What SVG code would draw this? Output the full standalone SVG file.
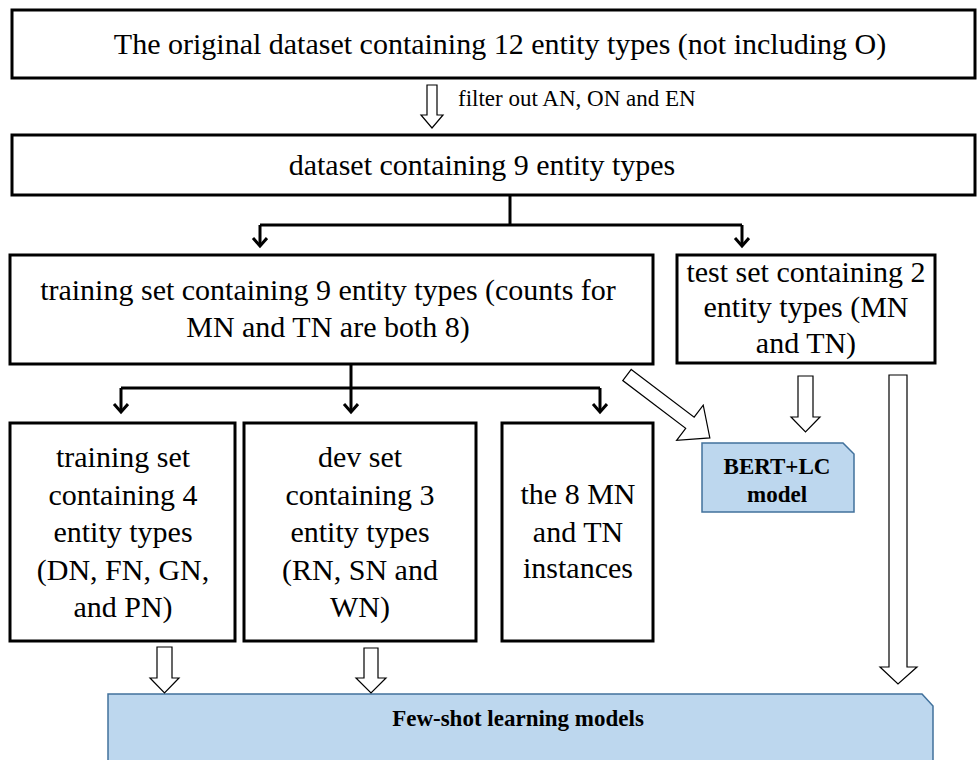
<svg xmlns="http://www.w3.org/2000/svg" width="979" height="760" viewBox="0 0 979 760">
<style>
.box{fill:#fff;stroke:#000;stroke-width:3}
.t{font-family:"Liberation Serif","Times New Roman",serif;font-size:30px;fill:#000;text-anchor:middle}
.small{font-size:23px;text-anchor:start}
.b{font-weight:bold;font-size:23px}
.model{fill:#BDD7EE;stroke:#41719C;stroke-width:1.5}
.hollow{fill:#fff;stroke:#000;stroke-width:1.2}
.conn{fill:none;stroke:#000;stroke-width:3}
</style>
<defs>
<marker id="chev" markerWidth="16" markerHeight="18" refX="9" refY="8" orient="auto" markerUnits="userSpaceOnUse">
<path d="M1,1 L9,8 L1,15" fill="none" stroke="#000" stroke-width="3"/>
</marker>
</defs>
<rect width="979" height="760" fill="#fff"/>

<g id="original">
<rect class="box" x="12" y="10" width="963" height="68"/>
<text class="t" x="500" y="54">The original dataset containing 12 entity types (not including O)</text>
</g>

<g id="dataset9">
<rect class="box" x="12" y="135" width="963" height="60"/>
<text class="t" x="482" y="175">dataset containing 9 entity types</text>
</g>

<g id="trainset9">
<rect class="box" x="10" y="255" width="643" height="109"/>
<text class="t" x="328" y="300">training set containing 9 entity types (counts for</text>
<text class="t" x="328" y="337">MN and TN are both 8)</text>
</g>

<g id="testset">
<rect class="box" x="677" y="255" width="258" height="108"/>
<text class="t" x="806" y="282">test set containing 2</text>
<text class="t" x="806" y="317">entity types (MN</text>
<text class="t" x="806" y="353">and TN)</text>
</g>

<g id="trainset4">
<rect class="box" x="10" y="423" width="225" height="218"/>
<text class="t" x="123" y="467">training set</text>
<text class="t" x="123" y="505">containing 4</text>
<text class="t" x="123" y="542">entity types</text>
<text class="t" x="123" y="580">(DN, FN, GN,</text>
<text class="t" x="123" y="617">and PN)</text>
</g>

<g id="devset">
<rect class="box" x="244" y="423" width="232" height="218"/>
<text class="t" x="360" y="467">dev set</text>
<text class="t" x="360" y="505">containing 3</text>
<text class="t" x="360" y="542">entity types</text>
<text class="t" x="360" y="580">(RN, SN and</text>
<text class="t" x="360" y="617">WN)</text>
</g>

<g id="instances">
<rect class="box" x="502" y="423" width="151" height="218"/>
<text class="t" x="578" y="504">the 8 MN</text>
<text class="t" x="578" y="542">and TN</text>
<text class="t" x="578" y="578">instances</text>
</g>

<g id="bert">
<polygon class="model" points="702,443 843,443 854,454 854,512 702,512"/>
<text class="t b" x="777" y="474">BERT+LC</text>
<text class="t b" x="777" y="502">model</text>
</g>

<g id="fewshot">
<polygon class="model" points="108,694 922,694 933,706 933,764 108,764"/>
<text class="t b" x="518" y="726">Few-shot learning models</text>
</g>

<g id="connectors">
<path class="conn" d="M510,195 V225"/>
<path class="conn" d="M260,225 H742"/>
<path class="conn" d="M260,225 V246" marker-end="url(#chev)"/>
<path class="conn" d="M742,225 V246" marker-end="url(#chev)"/>
<path class="conn" d="M351,364 V388"/>
<path class="conn" d="M121,388 H600"/>
<path class="conn" d="M121,388 V412" marker-end="url(#chev)"/>
<path class="conn" d="M351,388 V412" marker-end="url(#chev)"/>
<path class="conn" d="M600,388 V412" marker-end="url(#chev)"/>
<polygon class="hollow" points="427,85 437,85 437,115 443,115 432,128 421,115 427,115"/>
<text class="t small" x="458" y="106">filter out AN, ON and EN</text>
<polygon class="hollow" transform="translate(627,375) rotate(37.2)" points="0,-7 79,-7 79,-22 104,0 79,22 79,7 0,7"/>
<polygon class="hollow" points="798,376 813,376 813,417 820,417 805.5,432 791,417 798,417"/>
<polygon class="hollow" points="889,375 907,375 907,667 917,667 898,684 880,667 889,667"/>
<polygon class="hollow" points="157,647 172,647 172,678 179,678 164.5,693 150,678 157,678"/>
<polygon class="hollow" points="364,648 378,648 378,678 386,678 371,693 356,678 364,678"/>
</g>
</svg>
